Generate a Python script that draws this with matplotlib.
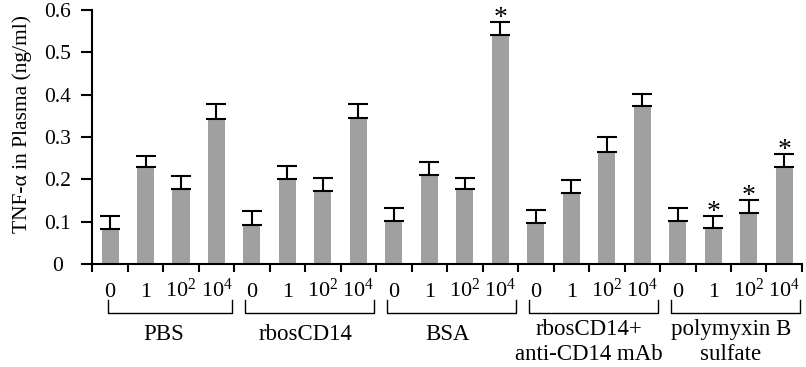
import matplotlib
matplotlib.use("Agg")
import matplotlib.pyplot as plt
import numpy as np

plt.rcParams['font.family'] = ['Liberation Serif', 'DejaVu Serif']
plt.rcParams['mathtext.fontset'] = 'custom'
plt.rcParams['mathtext.rm'] = 'Liberation Serif'

# datos
grupos = ["PBS", "rbosCD14", "BSA", "rbosCD14+\nanti-CD14 mAb", "polymyxin B\nsulfate"]
dosis = ["0", "1", r"$\mathregular{10^2}$", r"$\mathregular{10^4}$"]

valores = [0.082, 0.228, 0.177, 0.342,
           0.091, 0.200, 0.172, 0.346,
           0.102, 0.210, 0.176, 0.540,
           0.096, 0.168, 0.265, 0.374,
           0.102, 0.086, 0.120, 0.228]
errores = [0.031, 0.028, 0.032, 0.036,
           0.034, 0.032, 0.031, 0.032,
           0.031, 0.030, 0.027, 0.031,
           0.032, 0.031, 0.034, 0.027,
           0.030, 0.028, 0.031, 0.032]
significativo = [0, 0, 0, 0,
                 0, 0, 0, 0,
                 0, 0, 0, 1,
                 0, 0, 0, 0,
                 0, 1, 1, 1]

fig = plt.figure(figsize=(8.06, 3.67), dpi=100)
ax = fig.add_axes([0.1145, 0.2807, 0.8805, 0.6921])

x = np.arange(len(valores))
ax.bar(x, valores, width=0.48, color='#a0a0a0')
ax.errorbar(x, valores, yerr=[np.zeros(len(valores)), errores], fmt='none',
            ecolor='black', elinewidth=1.5, capsize=7, capthick=1.5)

for i in range(len(valores)):
    if significativo[i]:
        ax.annotate("*", (x[i], valores[i] + errores[i]), xytext=(0, -2),
                    textcoords='offset points', ha='center', va='baseline',
                    fontsize=20)

ax.set_xlim(-0.5, 19.5)
ax.set_ylim(0, 0.6)
ax.spines['top'].set_visible(False)
ax.spines['right'].set_visible(False)
ax.spines['left'].set_linewidth(1.5)
ax.spines['bottom'].set_linewidth(1.5)

ax.set_xticks(np.arange(-0.5, 20, 1))
ax.set_xticklabels([])
ax.tick_params(axis='x', direction='out', length=6, width=1.5)
ax.set_yticks([0, 0.1, 0.2, 0.3, 0.4, 0.5, 0.6])
ax.set_yticklabels(["0", "0.1", "0.2", "0.3", "0.4", "0.5", "0.6"], ha='center')
ax.tick_params(axis='y', direction='out', length=8, width=1.5, pad=17, labelsize=15.5)

ax.set_ylabel("TNF-α in Plasma (ng/ml)", fontsize=15.5, va='center')
ax.yaxis.set_label_coords(-0.0995, 0.553)

# etiquetas de dosis y corchetes de grupos
for g in range(len(grupos)):
    inicio = g * 4
    for j in range(4):
        ax.text(inicio + j, -0.077, dosis[j], ha='center', va='baseline',
                fontsize=16, clip_on=False)
    izq = inicio - 0.5 + (0.45 if g == 0 else 0.3)
    der = inicio + 3.5 - 0.05
    ax.plot([izq, izq, der, der], [-0.085, -0.116, -0.116, -0.085],
            color='black', linewidth=1, clip_on=False)
    lineas = grupos[g].split("\n")
    if len(lineas) == 1:
        ax.text(inicio + 1.5, -0.18, lineas[0], ha='center', va='baseline',
                fontsize=16.5, clip_on=False)
    else:
        ax.text(inicio + 1.5, -0.168, lineas[0], ha='center', va='baseline',
                fontsize=16.5, clip_on=False)
        ax.text(inicio + 1.5, -0.227, lineas[1], ha='center', va='baseline',
                fontsize=16.5, clip_on=False)

fig.savefig("out.png", dpi=100)
